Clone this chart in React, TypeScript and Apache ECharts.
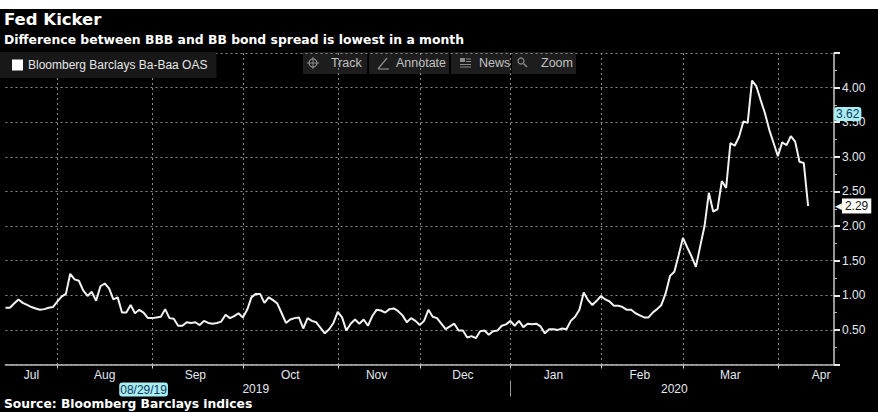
import React, { useEffect, useRef } from 'react';
import * as echarts from 'echarts';

// ---- calendar (trading days of the index) ----
const startDate = '2019-07-16';
const endDate = '2020-04-21';
const holidays = ['2019-10-14', '2019-11-11', '2019-11-28', '2019-12-25', '2020-01-01', '2020-01-20', '2020-02-17', '2020-04-10'];

function tradingDays(start: string, end: string, skip: string[]): string[] {
  const out: string[] = [];
  const d = new Date(start + 'T00:00:00Z');
  const e = new Date(end + 'T00:00:00Z');
  while (d <= e) {
    const wd = d.getUTCDay();
    const s = d.toISOString().slice(0, 10);
    if (wd !== 0 && wd !== 6 && !skip.includes(s)) out.push(s);
    d.setUTCDate(d.getUTCDate() + 1);
  }
  return out;
}
const dates = tradingDays(startDate, endDate, holidays);

// ---- series values (Bloomberg Barclays Ba-Baa OAS, %) ----
const spread = [
  0.82, 0.82, 0.88, 0.94, 0.89, 0.86, 0.83, 0.81, 0.79, 0.80,
  0.82, 0.83, 0.91, 0.98, 1.02, 1.31, 1.23, 1.21, 1.07, 0.99,
  1.05, 0.92, 1.13, 1.17, 1.10, 0.94, 0.97, 0.75, 0.75, 0.86,
  0.74, 0.79, 0.75, 0.67, 0.67, 0.68, 0.69, 0.80, 0.67, 0.66,
  0.56, 0.56, 0.61, 0.60, 0.61, 0.57, 0.63, 0.60, 0.59, 0.60,
  0.62, 0.72, 0.67, 0.70, 0.74, 0.68, 0.79, 0.97, 1.02, 1.02,
  0.89, 0.97, 0.93, 0.88, 0.74, 0.60, 0.65, 0.67, 0.68, 0.52,
  0.67, 0.63, 0.61, 0.53, 0.45, 0.51, 0.60, 0.76, 0.68, 0.49,
  0.59, 0.65, 0.59, 0.65, 0.56, 0.70, 0.79, 0.78, 0.75, 0.80,
  0.81, 0.77, 0.71, 0.61, 0.67, 0.63, 0.57, 0.63, 0.79, 0.69,
  0.67, 0.59, 0.51, 0.55, 0.59, 0.49, 0.49, 0.39, 0.41, 0.38,
  0.48, 0.49, 0.43, 0.48, 0.49, 0.56, 0.58, 0.63, 0.56, 0.63,
  0.54, 0.59, 0.58, 0.59, 0.55, 0.45, 0.51, 0.51, 0.50, 0.52,
  0.51, 0.63, 0.69, 0.79, 1.04, 0.93, 0.86, 0.92, 0.99, 0.94,
  0.91, 0.85, 0.85, 0.83, 0.79, 0.79, 0.74, 0.71, 0.68, 0.68,
  0.75, 0.80, 0.86, 1.03, 1.28, 1.34, 1.58, 1.83, 1.69, 1.56,
  1.41, 1.71, 2.00, 2.48, 2.21, 2.24, 2.65, 2.55, 3.20, 3.16,
  3.29, 3.51, 3.49, 4.10, 4.02, 3.82, 3.63, 3.39, 3.20, 3.01,
  3.21, 3.17, 3.30, 3.22, 2.93, 2.91, 2.29,
];

// ---- tick labels ----
const monthNames = ['Jan', 'Feb', 'Mar', 'Apr', 'May', 'Jun', 'Jul', 'Aug', 'Sep', 'Oct', 'Nov', 'Dec'];
const monthLabelDates = ['2019-07-24', '2019-08-16', '2019-09-16', '2019-10-17', '2019-11-15', '2019-12-16', '2020-01-16', '2020-02-14', '2020-03-17', '2020-04-16'];
const yearLabelDates = ['2019-10-04', '2020-02-27'];
const cursorDate = '2019-08-29';
const cursorValue = 3.62;
const seriesName = 'Bloomberg Barclays Ba-Baa OAS';

const FONT = 'Liberation Sans';
const BOLD = 'DejaVu Sans';

function isMonthStart(i: number) {
  return i > 0 && dates[i].slice(5, 7) !== dates[i - 1].slice(5, 7);
}
function isYearStart(i: number) {
  return i > 0 && dates[i].slice(0, 4) !== dates[i - 1].slice(0, 4);
}

export default function App() {
  const ref = useRef<HTMLDivElement>(null);
  useEffect(() => {
    if (!ref.current) return;
    const chart = echarts.init(ref.current, null, { renderer: 'svg' });
    const lastValue = spread[spread.length - 1];
    const dotted = { color: '#8a8a8a', width: 1, type: [2, 3] as number[] };
    const btnFill = '#1d1d1d';
    const btnText = '#c2c2c2';
    const iconCol = '#8c8c8c';
    const option: any = {
      animation: false,
      backgroundColor: '#000000',
      title: [
        {
          text: 'Fed Kicker',
          subtext: 'Difference between BBB and BB bond spread is lowest in a month',
          left: 4,
          top: 11,
          padding: 0,
          itemGap: 5,
          textStyle: { color: '#ffffff', fontSize: 16.5, fontWeight: 'bold', fontFamily: BOLD },
          subtextStyle: { color: '#ffffff', fontSize: 12.4, fontWeight: 'bold', fontFamily: BOLD },
        },
        {
          text: 'Source: Bloomberg Barclays indices',
          left: 4,
          top: 398,
          padding: 0,
          textStyle: { color: '#ffffff', fontSize: 12.3, fontWeight: 'bold', fontFamily: BOLD },
        },
      ],
      legend: {
        left: 0,
        top: 52,
        padding: [7, 9, 7, 12],
        backgroundColor: '#181818',
        icon: 'rect',
        itemWidth: 11,
        itemHeight: 11,
        itemGap: 5,
        textStyle: { color: '#e6e6e6', fontSize: 12, fontFamily: FONT },
        data: [seriesName],
      },
      grid: { left: 5.5, right: 44, top: 53, bottom: 47.5 },
      xAxis: [
        {
          type: 'category',
          data: dates,
          boundaryGap: false,
          axisLine: { show: true, lineStyle: { color: '#bdbdbd', width: 1.5 } },
          axisTick: { show: true, interval: (i: number) => isMonthStart(i), length: 4, lineStyle: { color: '#d0d0d0' } },
          splitLine: { show: true, interval: (i: number) => isMonthStart(i), lineStyle: dotted },
          axisLabel: {
            interval: (_i: number, v: string) => monthLabelDates.includes(v),
            formatter: (v: string) => monthNames[Number(v.slice(5, 7)) - 1],
            color: '#e4e9ee',
            fontSize: 12,
            fontFamily: FONT,
            margin: 4,
          },
        },
        {
          type: 'category',
          data: dates,
          boundaryGap: false,
          position: 'bottom',
          offset: 16,
          axisLine: { show: false },
          axisTick: { show: true, interval: (i: number) => isYearStart(i), length: 16, lineStyle: { color: '#9a9a9a' } },
          splitLine: { show: false },
          axisLabel: {
            interval: (_i: number, v: string) => yearLabelDates.includes(v),
            formatter: (v: string) => v.slice(0, 4),
            color: '#e4e9ee',
            fontSize: 12,
            fontFamily: FONT,
            margin: 2,
          },
          axisPointer: {
            show: true,
            status: 'show',
            type: 'none',
            triggerTooltip: false,
            value: dates.indexOf(cursorDate),
            label: {
              show: true,
              margin: 2,
              padding: [1, 1, 1, 1],
              backgroundColor: '#a9eef3',
              color: '#10385a',
              fontSize: 12,
              fontFamily: FONT,
              formatter: (p: any) => {
                const s: string = typeof p.value === 'number' ? dates[p.value] : String(p.value);
                return s.slice(5, 7) + '/' + s.slice(8, 10) + '/' + s.slice(2, 4);
              },
            },
          },
        },
      ],
      yAxis: {
        type: 'value',
        position: 'right',
        min: 0,
        max: 4.5,
        interval: 0.5,
        axisLine: { show: true, lineStyle: { color: '#c8c8c8', width: 1.5 } },
        axisTick: { show: true, length: 6, lineStyle: { color: '#ececec', width: 2 } },
        minorTick: { show: true, splitNumber: 2, length: 3, lineStyle: { color: '#bcbcbc' } },
        splitLine: { show: true, lineStyle: dotted },
        axisLabel: {
          margin: 8,
          color: '#e4e9ee',
          fontSize: 12,
          fontFamily: FONT,
          formatter: (v: number) => (v <= 0 || v >= 4.5 ? '' : v.toFixed(2)),
        },
        axisPointer: {
          show: true,
          status: 'show',
          type: 'none',
          triggerTooltip: false,
          value: cursorValue,
          label: {
            show: true,
            margin: 0,
            padding: [1, 2, 1, 2],
            backgroundColor: '#a9eef3',
            color: '#10385a',
            fontSize: 12,
            fontFamily: FONT,
            formatter: (p: any) => Number(p.value).toFixed(2),
          },
        },
      },
      series: [
        {
          name: seriesName,
          type: 'line',
          data: spread,
          showSymbol: false,
          symbol: 'none',
          color: '#ffffff',
          lineStyle: { color: '#f2f2f2', width: 2 },
          markLine: {
            silent: true,
            symbol: ['none', 'none'],
            lineStyle: { color: 'rgba(0,0,0,0)', width: 0, type: 'solid' },
            emphasis: { disabled: true },
            data: [{ yAxis: lastValue }],
            label: {
              show: true,
              position: 'end',
              distance: 1,
              color: '#111111',
              formatter: '{a|\u25C0}{b|' + lastValue.toFixed(2) + '}',
              rich: {
                a: { color: '#ffffff', fontSize: 9, fontFamily: BOLD, padding: [0, 0, 0, 0] },
                b: { backgroundColor: '#ffffff', color: '#111111', fontSize: 12, fontFamily: FONT, padding: [2, 3, 1, 3] },
              },
            },
          },
        },
      ],
      graphic: [
        { type: 'rect', shape: { x: 0, y: 0, width: 878, height: 9 }, style: { fill: '#ffffff' }, silent: true },
        // toolbar
        { type: 'rect', shape: { x: 303, y: 52, width: 64, height: 22 }, style: { fill: btnFill } },
        { type: 'circle', shape: { cx: 313, cy: 63, r: 4 }, style: { fill: 'none', stroke: iconCol, lineWidth: 1.2 } },
        { type: 'line', shape: { x1: 307, y1: 63, x2: 319, y2: 63 }, style: { stroke: iconCol, lineWidth: 1 } },
        { type: 'line', shape: { x1: 313, y1: 57, x2: 313, y2: 69 }, style: { stroke: iconCol, lineWidth: 1 } },
        { type: 'text', x: 331, y: 63, style: { text: 'Track', fill: btnText, font: '12.5px "Liberation Sans"', textVerticalAlign: 'middle' } },
        { type: 'rect', shape: { x: 369, y: 52, width: 80, height: 22 }, style: { fill: btnFill } },
        { type: 'line', shape: { x1: 378, y1: 69, x2: 387, y2: 58 }, style: { stroke: iconCol, lineWidth: 1.2 } },
        { type: 'line', shape: { x1: 378, y1: 69, x2: 389, y2: 69 }, style: { stroke: iconCol, lineWidth: 1.2 } },
        { type: 'text', x: 396, y: 63, style: { text: 'Annotate', fill: btnText, font: '12.5px "Liberation Sans"', textVerticalAlign: 'middle' } },
        { type: 'rect', shape: { x: 451, y: 52, width: 59, height: 22 }, style: { fill: btnFill } },
        { type: 'rect', shape: { x: 460, y: 58, width: 5, height: 4 }, style: { fill: iconCol } },
        { type: 'line', shape: { x1: 466, y1: 59, x2: 471, y2: 59 }, style: { stroke: iconCol, lineWidth: 1 } },
        { type: 'line', shape: { x1: 466, y1: 61.5, x2: 471, y2: 61.5 }, style: { stroke: iconCol, lineWidth: 1 } },
        { type: 'line', shape: { x1: 460, y1: 64.5, x2: 471, y2: 64.5 }, style: { stroke: iconCol, lineWidth: 1 } },
        { type: 'line', shape: { x1: 460, y1: 67, x2: 471, y2: 67 }, style: { stroke: iconCol, lineWidth: 1 } },
        { type: 'text', x: 479, y: 63, style: { text: 'News', fill: btnText, font: '12.5px "Liberation Sans"', textVerticalAlign: 'middle' } },
        { type: 'rect', shape: { x: 512, y: 52, width: 64, height: 22 }, style: { fill: btnFill } },
        { type: 'circle', shape: { cx: 521, cy: 61, r: 3 }, style: { fill: 'none', stroke: iconCol, lineWidth: 1.2 } },
        { type: 'line', shape: { x1: 523.5, y1: 63.5, x2: 527, y2: 67 }, style: { stroke: iconCol, lineWidth: 1.5 } },
        { type: 'text', x: 541, y: 63, style: { text: 'Zoom', fill: btnText, font: '12.5px "Liberation Sans"', textVerticalAlign: 'middle' } },
      ],
    };
    chart.setOption(option);
    return () => chart.dispose();
  }, []);
  return <div ref={ref} style={{ position: 'absolute', left: 0, top: 0, width: 878, height: 412 }} />;
}
